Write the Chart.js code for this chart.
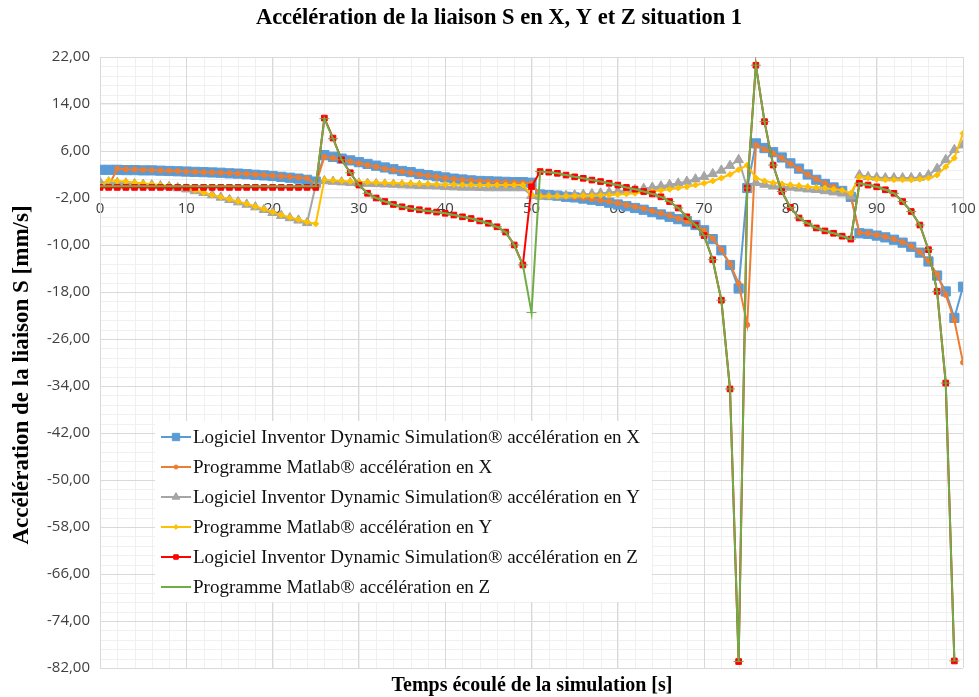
<!DOCTYPE html>
<html>
<head>
<meta charset="utf-8">
<script src="https://cdn.jsdelivr.net/npm/chart.js@4"></script>
<style>
  body { margin: 0; background: #fff; }
  canvas { display: block; }
</style>
</head>
<body>
<canvas id="graphe" width="979" height="697"></canvas>
<script>
// temps en secondes (un point par seconde)
var temps = [];
for (var i = 0; i <= 100; i++) temps.push(i);

var xTicks = [0, 10, 20, 30, 40, 50, 60, 70, 80, 90, 100];
var yTicks = [22, 14, 6, -2, -10, -18, -26, -34, -42, -50, -58, -66, -74, -82];

var inventorX = [
  2.8, 2.8, 2.8, 2.75, 2.75, 2.7, 2.7, 2.65, 2.6, 2.55,
  2.5, 2.45, 2.4, 2.35, 2.3, 2.2, 2.15, 2.05, 1.95, 1.85,
  1.75, 1.6, 1.45, 1.3, 1.1, 0.8, 5.3, 5.0, 4.7, 4.4,
  4.1, 3.8, 3.5, 3.2, 2.9, 2.6, 2.4, 2.1, 1.9, 1.7,
  1.5, 1.3, 1.15, 1.0, 0.9, 0.85, 0.8, 0.75, 0.7, 0.7,
  0.6, -1.4, -1.5, -1.6, -1.8, -1.9, -2.1, -2.3, -2.5, -2.8,
  -3.1, -3.4, -3.7, -4.0, -4.4, -4.8, -5.2, -5.6, -6.0, -6.6,
  -7.5, -9.0, -10.9, -13.4, -17.4, -0.3, 7.3, 6.5, 5.8, 4.9,
  3.9, 3.0, 2.0, 1.1, 0.4, -0.2, -0.8, -1.8, -8.0, -8.1,
  -8.4, -8.7, -9.1, -9.6, -10.3, -11.3, -12.8, -15.2, -17.9, -22.4,
  -17.1
];
var matlabX = [
  0, 0, 3.0, 2.9, 2.85, 2.8, 2.75, 2.7, 2.65, 2.6,
  2.5, 2.45, 2.4, 2.35, 2.3, 2.25, 2.15, 2.1, 2.0, 1.9,
  1.8, 1.7, 1.6, 1.5, 1.35, 0.3, 5.0, 4.8, 4.5, 4.2,
  3.9, 3.6, 3.3, 3.0, 2.75, 2.5, 2.25, 2.0, 1.8, 1.6,
  1.4, 1.25, 1.1, 1.0, 0.9, 0.8, 0.75, 0.7, 0.65, 0.6,
  0.5, -1.5, -1.6, -1.7, -1.8, -1.9, -2.0, -2.2, -2.4, -2.6,
  -2.9, -3.2, -3.5, -3.8, -4.2, -4.6, -5.0, -5.5, -6.0, -6.6,
  -7.5, -8.9, -10.8, -13.2, -16.5, -23.6, 7.0, 6.3, 5.6, 4.8,
  3.8, 2.9, 2.0, 1.2, 0.5, -0.1, -0.7, -1.6, -7.9, -8.0,
  -8.3, -8.6, -9.0, -9.5, -10.2, -11.2, -12.7, -15.0, -18.5, -22.8,
  -30.0
];
var inventorY = [
  0.7, 0.7, 0.6, 0.5, 0.4, 0.3, 0.2, 0.05, -0.1, -0.3,
  -0.5, -0.8, -1.1, -1.5, -1.9, -2.3, -2.7, -3.1, -3.55, -4.0,
  -4.5, -5.0, -5.4, -5.8, -6.2, 0.2, 0.9, 0.8, 0.7, 0.6,
  0.5, 0.45, 0.4, 0.35, 0.3, 0.2, 0.15, 0.1, 0.05, 0.0,
  -0.1, -0.15, -0.2, -0.2, -0.25, -0.3, -0.3, -0.3, -0.3, -0.3,
  -1.6, -1.7, -1.7, -1.65, -1.6, -1.5, -1.4, -1.3, -1.2, -1.05,
  -0.9, -0.75, -0.6, -0.4, -0.2, 0.0, 0.25, 0.5, 0.8, 1.2,
  1.6, 2.1, 2.7, 3.5, 4.5, -0.3, 0.6, 0.3, 0.0, -0.1,
  -0.2, -0.35, -0.5, -0.6, -0.8, -1.0, -1.2, -1.7, 1.9, 1.6,
  1.5, 1.4, 1.4, 1.4, 1.4, 1.5, 1.9, 3.0, 4.5, 6.2,
  7.0
];
var matlabY = [
  0, 1.0, 0.9, 0.8, 0.65, 0.5, 0.35, 0.2, 0.05, -0.15,
  -0.35, -0.7, -1.1, -1.5, -1.85, -2.2, -2.6, -3.0, -3.45, -3.9,
  -4.4, -4.9, -5.3, -5.7, -6.1, -6.4, 1.1, 1.0, 0.9, 0.8,
  0.75, 0.7, 0.65, 0.6, 0.55, 0.5, 0.45, 0.4, 0.4, 0.35,
  0.3, 0.3, 0.25, 0.25, 0.2, 0.2, 0.2, 0.2, 0.2, 0.2,
  -1.5, -1.7, -1.7, -1.7, -1.7, -1.65, -1.6, -1.6, -1.55, -1.5,
  -1.4, -1.3, -1.2, -1.0, -0.85, -0.7, -0.5, -0.3, -0.1, 0.2,
  0.5, 0.9, 1.4, 2.0, 2.8, 3.6, 1.4, 0.9, 0.6, 0.4,
  0.2, 0.1, -0.1, -0.2, -0.3, -0.5, -0.7, -1.2, 1.6, 1.4,
  1.2, 1.1, 1.1, 1.1, 1.1, 1.2, 1.4, 1.9, 3.3, 4.8,
  9.0
];
var inventorZ = [
  -0.2, -0.2, -0.2, -0.2, -0.2, -0.2, -0.2, -0.2, -0.2, -0.2,
  -0.2, -0.2, -0.2, -0.2, -0.2, -0.2, -0.2, -0.2, -0.2, -0.2,
  -0.2, -0.2, -0.2, -0.2, -0.2, -0.2, 11.6, 8.2, 4.5, 2.3,
  0.2, -1.2, -2.0, -2.6, -3.1, -3.5, -3.8, -4.0, -4.2, -4.4,
  -4.6, -4.9, -5.2, -5.5, -5.9, -6.3, -6.9, -7.8, -10.0, -13.4,
  -0.1, 2.5, 2.4, 2.2, 1.9, 1.6, 1.35, 1.05, 0.8, 0.5,
  0.2, -0.2, -0.5, -0.9, -1.3, -1.8, -2.6, -3.7, -5.2, -6.6,
  -8.4, -12.5, -19.4, -34.5, -80.9, -0.3, 20.6, 11.0, 3.6, -0.9,
  -3.6, -5.4, -6.3, -7.1, -7.6, -8.0, -8.5, -9.0, 0.5, 0.2,
  -0.1, -0.6, -1.2, -2.6, -4.3, -6.6, -10.8, -17.9, -33.5, -80.8,
  null
];
var matlabZ = [
  0, 0, 0, 0, 0, 0, 0, 0, 0, 0,
  0, 0, 0, 0, 0, 0, 0, 0, 0, 0,
  0, 0, 0, 0, 0, 0, 11.5, 8.1, 4.5, 2.3,
  0.2, -1.2, -2.0, -2.6, -3.1, -3.5, -3.8, -4.0, -4.2, -4.4,
  -4.6, -4.9, -5.2, -5.5, -5.9, -6.3, -6.9, -7.8, -10.0, -13.4,
  -21.5, 2.5, 2.4, 2.2, 1.9, 1.6, 1.35, 1.05, 0.8, 0.5,
  0.2, -0.2, -0.5, -0.9, -1.3, -1.8, -2.6, -3.7, -5.2, -6.6,
  -8.4, -12.5, -19.4, -34.5, -80.9, -0.3, 20.6, 11.0, 3.6, -0.9,
  -3.6, -5.4, -6.3, -7.1, -7.6, -8.0, -8.5, -9.0, 0.5, 0.2,
  -0.1, -0.6, -1.2, -2.6, -4.3, -6.6, -10.8, -17.9, -33.5, -80.8,
  null
];

function points(serie) {
  return serie.map(function (v, i) { return { x: temps[i], y: v }; });
}

var serif = '"Liberation Serif", "Times New Roman", serif';

var series = [
  { label: 'Logiciel Inventor Dynamic Simulation® accélération en X', data: points(inventorX),
    borderColor: '#5B9BD5', backgroundColor: '#5B9BD5', pointStyle: 'rect', pointRadius: 6.5, order: 6 },
  { label: 'Programme Matlab® accélération en X', data: points(matlabX),
    borderColor: '#ED7D31', backgroundColor: '#ED7D31', pointStyle: 'circle', pointRadius: 2.5, order: 5 },
  { label: 'Logiciel Inventor Dynamic Simulation® accélération en Y', data: points(inventorY),
    borderColor: '#A5A5A5', backgroundColor: '#A5A5A5', pointStyle: 'triangle', pointRadius: 5.5, order: 4 },
  { label: 'Programme Matlab® accélération en Y', data: points(matlabY),
    borderColor: '#FFC000', backgroundColor: '#FFC000', pointStyle: 'rectRot', pointRadius: 3, order: 3 },
  { label: 'Logiciel Inventor Dynamic Simulation® accélération en Z', data: points(inventorZ),
    borderColor: '#FF0000', backgroundColor: '#FF0000', pointStyle: 'rect', pointRadius: 4, order: 2 },
  { label: 'Programme Matlab® accélération en Z', data: points(matlabZ),
    borderColor: '#70AD47', backgroundColor: '#70AD47', pointStyle: 'line', pointRadius: 5, order: 1 }
];
series.forEach(function (s) {
  s.borderWidth = 2;
  s.pointBorderWidth = 1;
  s.tension = 0;
  s.spanGaps = false;
});

// fond blanc + quadrillage secondaire
var fond = {
  id: 'fond',
  beforeDraw: function (chart) {
    var ctx = chart.ctx, a = chart.chartArea, sx = chart.scales.x, sy = chart.scales.y;
    ctx.save();
    ctx.fillStyle = '#fff';
    ctx.fillRect(0, 0, chart.width, chart.height);
    ctx.strokeStyle = '#F0F0F0';
    ctx.lineWidth = 1;
    ctx.beginPath();
    for (var t = 0; t <= 100; t += 2) {
      var x = Math.round(sx.getPixelForValue(t)) + 0.5;
      ctx.moveTo(x, a.top); ctx.lineTo(x, a.bottom);
    }
    for (var k = 0; k <= 65; k++) {
      var y = Math.round(sy.getPixelForValue(-82 + k * 1.6)) + 0.5;
      ctx.moveTo(a.left, y); ctx.lineTo(a.right, y);
    }
    ctx.stroke();
    ctx.restore();
  }
};

// légende dans la zone du graphique
var legende = {
  id: 'legende',
  afterDatasetsDraw: function (chart) {
    var ctx = chart.ctx;
    ctx.save();
    ctx.fillStyle = '#fff';
    ctx.fillRect(155, 421, 497, 181);
    chart.data.datasets.forEach(function (ds, i) {
      var y = 437 + i * 30;
      ctx.strokeStyle = ds.borderColor;
      ctx.lineWidth = 2;
      ctx.beginPath();
      ctx.moveTo(161, y); ctx.lineTo(191, y);
      ctx.stroke();
      ctx.fillStyle = ds.backgroundColor;
      ctx.lineWidth = 1;
      Chart.helpers.drawPoint(ctx, { pointStyle: ds.pointStyle, radius: ds.pointRadius * 0.8, borderWidth: 1, rotation: 0 }, 176, y);
      ctx.fillStyle = '#111';
      ctx.font = '19px ' + serif;
      ctx.textAlign = 'left';
      ctx.textBaseline = 'middle';
      ctx.fillText(ds.label, 193, y + 1);
    });
    ctx.restore();
  }
};

// titres
var titres = {
  id: 'titres',
  afterDraw: function (chart) {
    var ctx = chart.ctx;
    ctx.save();
    ctx.fillStyle = '#000';
    ctx.textAlign = 'center';
    ctx.textBaseline = 'middle';
    ctx.font = 'bold 22.5px ' + serif;
    ctx.fillText('Accélération de la liaison S en X, Y et Z situation 1', 499, 18);
    ctx.font = 'bold 20px ' + serif;
    ctx.fillText('Temps écoulé de la simulation [s]', 532, 686);
    ctx.translate(22, 375);
    ctx.rotate(-Math.PI / 2);
    ctx.font = 'bold 23px ' + serif;
    ctx.fillText('Accélération de la liaison S [mm/s]', 0, 0);
    ctx.restore();
  }
};

new Chart(document.getElementById('graphe'), {
  type: 'line',
  data: { datasets: series },
  options: {
    responsive: false,
    animation: false,
    events: [],
    layout: { padding: { top: 57, right: 16, bottom: 29, left: 0 } },
    plugins: {
      legend: { display: false },
      tooltip: { enabled: false }
    },
    scales: {
      x: {
        type: 'linear',
        min: 0,
        max: 100,
        position: { y: -2 },
        afterBuildTicks: function (scale) {
          scale.ticks = xTicks.map(function (v) { return { value: v }; });
        },
        grid: { color: '#D9D9D9', drawTicks: false },
        border: { display: false },
        ticks: {
          padding: 2,
          maxRotation: 0,
          color: '#404040',
          font: { family: '"Open Sans"', size: 15 },
          callback: function (v) { return String(v); }
        }
      },
      y: {
        min: -82,
        max: 22,
        afterBuildTicks: function (scale) {
          scale.ticks = yTicks.map(function (v) { return { value: v }; });
        },
        afterFit: function (scale) { scale.width = 100; },
        grid: { color: '#D9D9D9', drawTicks: false },
        border: { color: '#D9D9D9' },
        ticks: {
          padding: 10,
          color: '#404040',
          font: { family: '"Open Sans"', size: 15 },
          callback: function (v) { return v.toFixed(2).replace('.', ','); }
        }
      }
    }
  },
  plugins: [fond, legende, titres]
});
</script>
</body>
</html>
